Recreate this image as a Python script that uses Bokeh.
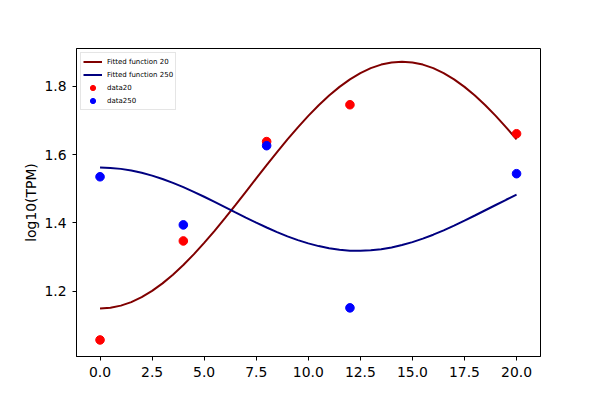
from bokeh.plotting import figure
from bokeh.models import FixedTicker, NumeralTickFormatter, Range1d, Legend
from bokeh.embed import file_html
from bokeh.resources import INLINE

# Data
fit_x = [0, 0.5, 1, 1.5, 2, 2.5, 3, 3.5, 4, 4.5, 5, 5.5, 6, 6.5, 7, 7.5, 8, 8.5, 9, 9.5,
         10, 10.5, 11, 11.5, 12, 12.5, 13, 13.5, 14, 14.5, 15, 15.5, 16, 16.5, 17, 17.5,
         18, 18.5, 19, 19.5, 20]
fit20 = [1.149, 1.1511, 1.1575, 1.1679, 1.1824, 1.2007, 1.2227, 1.2481, 1.2765, 1.3076,
         1.3412, 1.3767, 1.4138, 1.4520, 1.4909, 1.5301, 1.5690, 1.6072, 1.6443, 1.6798,
         1.7134, 1.7445, 1.7729, 1.7983, 1.8203, 1.8386, 1.8531, 1.8636, 1.8699, 1.872,
         1.8699, 1.8636, 1.8531, 1.8386, 1.8203, 1.7983, 1.7729, 1.7445, 1.7134, 1.6798, 1.6443]
fit250 = [1.562, 1.5610, 1.5581, 1.5533, 1.5467, 1.5383, 1.5284, 1.5171, 1.5045, 1.4909,
          1.4765, 1.4615, 1.4462, 1.4307, 1.4154, 1.4005, 1.3863, 1.3729, 1.3605, 1.3495,
          1.3398, 1.3319, 1.3256, 1.3212, 1.3186, 1.3180, 1.3194, 1.3227, 1.3279, 1.3349,
          1.3435, 1.3537, 1.3653, 1.3781, 1.3919, 1.4064, 1.4215, 1.4369, 1.4523, 1.4676, 1.4824]
data_x = [0, 4, 8, 12, 20]
data20 = [1.057, 1.347, 1.638, 1.746, 1.661]
data250 = [1.535, 1.394, 1.626, 1.151, 1.544]
x_ticks = [0, 2.5, 5, 7.5, 10, 12.5, 15, 17.5, 20]
y_ticks = [1.2, 1.4, 1.6, 1.8]

FONT = "DejaVu Sans"

p = figure(width=592, height=392, output_backend="svg", toolbar_location=None,
           x_range=Range1d(-1.13, 21.15), y_range=Range1d(1.0085, 1.9107),
           min_border_left=76, min_border_right=52, min_border_top=48, min_border_bottom=36)
p.background_fill_color = "white"
p.border_fill_color = "white"
p.outline_line_color = "black"
p.outline_line_width = 1
p.xgrid.visible = False
p.ygrid.visible = False

r1 = p.line(fit_x, fit20, line_color="#800000", line_width=2)
r2 = p.line(fit_x, fit250, line_color="#000080", line_width=2)
r3 = p.scatter(data_x, data20, size=8.6, fill_color="#ff0000", line_color="#ff0000")
r4 = p.scatter(data_x, data250, size=8.6, fill_color="#0000ff", line_color="#0000ff")

legend = Legend(items=[("Fitted function 20", [r1]), ("Fitted function 250", [r2]),
                       ("data20", [r3]), ("data250", [r4])],
                location="top_left")
legend.label_text_font = FONT
legend.label_text_font_size = "7px"
legend.label_text_color = "black"
legend.glyph_width = 19
legend.glyph_height = 13
legend.label_height = 13
legend.spacing = 0
legend.padding = 2
legend.margin = 4
legend.label_standoff = 5
legend.border_line_color = "#cccccc"
legend.border_line_width = 1
legend.background_fill_alpha = 0.8
p.add_layout(legend)

for ax in (p.xaxis, p.yaxis):
    ax.major_label_text_font = FONT
    ax.major_label_text_font_size = "13.9px"
    ax.major_label_text_color = "black"
    ax.major_tick_in = 0
    ax.major_tick_out = 4
    ax.minor_tick_in = 0
    ax.minor_tick_out = 0
    ax.axis_line_color = "black"
    ax.major_tick_line_color = "black"
    ax.formatter = NumeralTickFormatter(format="0.0")

p.xaxis.ticker = FixedTicker(ticks=x_ticks)
p.yaxis.ticker = FixedTicker(ticks=y_ticks)
p.xaxis.major_label_standoff = 6
p.yaxis.major_label_standoff = 6

p.yaxis.axis_label = "log10(TPM)"
p.yaxis.axis_label_text_font = FONT
p.yaxis.axis_label_text_font_size = "13.9px"
p.yaxis.axis_label_text_font_style = "normal"
p.yaxis.axis_label_text_color = "black"
p.yaxis.axis_label_standoff = 2

open("out.html", "w").write(file_html(p, INLINE))
